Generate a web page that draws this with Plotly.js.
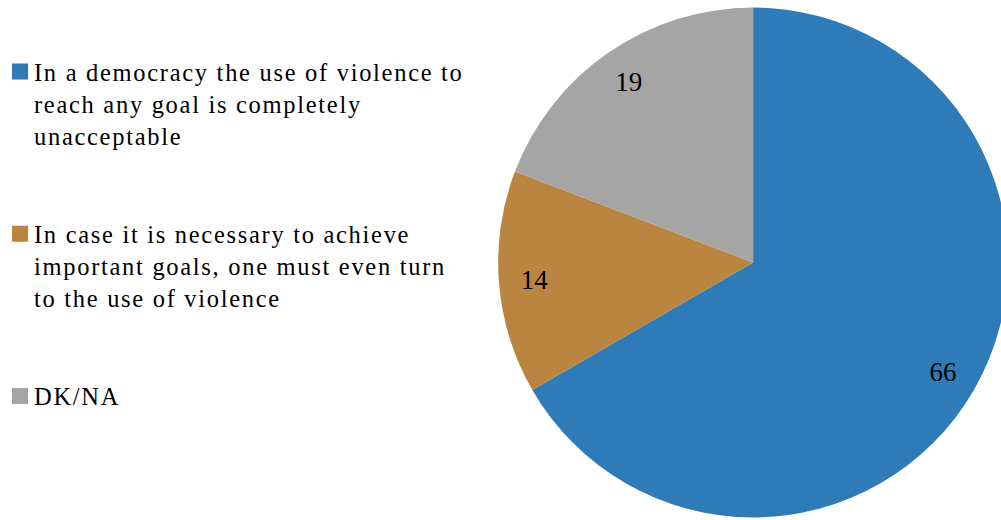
<!DOCTYPE html>
<html>
<head>
<meta charset="utf-8">
<script src="https://cdn.plot.ly/plotly-3.0.1.min.js"></script>
<style>
html,body{margin:0;padding:0;overflow:hidden;background:#fff;}
#chart{width:1012px;height:520px;}
.legendtext{letter-spacing:1.7px;}
#chart .legendtext{transform:translate(-6px,0);}
#chart path.legendpie{stroke-width:4px !important;}
</style>
</head>
<body>
<div id="chart"></div>
<script>
const categories = [
  "In a democracy the use of violence to<br>reach any goal is completely<br>unacceptable",
  "In case it is necessary to achieve<br>important goals, one must even turn<br>to the use of violence",
  "DK/NA"
];
const values = [66, 14, 19];
const colors = ["#2E7BB8", "#BA8441", "#A5A5A5"];

const W = 1012, H = 520;
const cx = 750, cy = 263, R = 258;
const domX = [(cx - R) / W, (cx + R) / W];
const domY = [(H - cy - R) / H, (H - cy + R) / H];

// legend labels padded with blank lines for spacing between entries
const legendLabels = categories.map((c, i) => i < categories.length - 1 ? c + "<br> <br> " : c);

const pie = {
  type: "pie",
  labels: legendLabels,
  values: values,
  marker: {colors: colors, line: {width: 0.01, color: colors}},
  sort: false,
  direction: "clockwise",
  rotation: 0,
  textinfo: "none",
  hoverinfo: "none",
  domain: {x: domX, y: domY},
  showlegend: true
};
const textRing = {
  type: "pie",
  labels: legendLabels,
  values: values,
  marker: {colors: ["rgba(0,0,0,0)", "rgba(0,0,0,0)", "rgba(0,0,0,0)"], line: {width: 0}},
  sort: false,
  direction: "clockwise",
  rotation: 0,
  hole: 0.72,
  textinfo: "value",
  textposition: "inside",
  insidetextorientation: "horizontal",
  insidetextfont: {family: "Liberation Serif", size: 27, color: "#000"},
  hoverinfo: "none",
  domain: {x: domX, y: domY},
  showlegend: false
};

const layout = {
  width: W, height: H,
  margin: {l: 0, r: 0, t: 0, b: 0},
  paper_bgcolor: "#fff",
  font: {family: "Liberation Serif", color: "#000"},
  showlegend: true,
  legend: {
    x: -0.012, xanchor: "left",
    y: 1 - 49 / H, yanchor: "top",
    valign: "top",
    font: {family: "Liberation Serif", size: 24.5, color: "#000"},
    bgcolor: "rgba(0,0,0,0)",
    traceorder: "normal"
  }
};

Plotly.newPlot("chart", [pie, textRing], layout, {staticPlot: true, displayModeBar: false});
</script>
</body>
</html>
